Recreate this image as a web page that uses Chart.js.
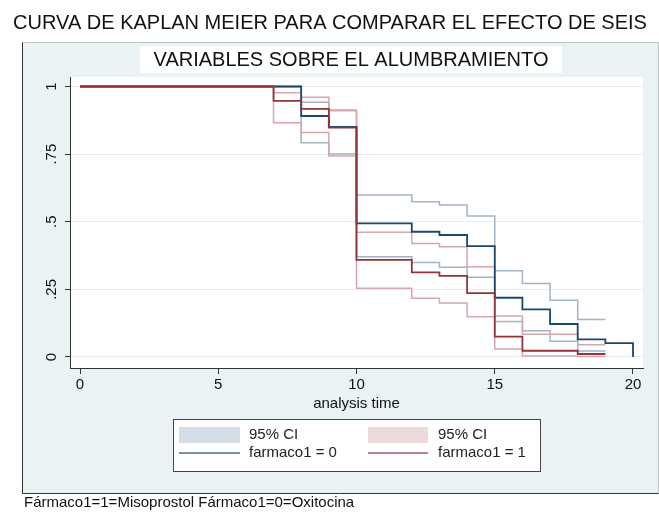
<!DOCTYPE html>
<html>
<head>
<meta charset="utf-8">
<script src="https://cdn.jsdelivr.net/npm/chart.js@4.4.0/dist/chart.umd.min.js"></script>
<style>
  html, body { margin: 0; padding: 0; background: #ffffff; }
  #c { display: block; }
</style>
</head>
<body>
<canvas id="c" width="659" height="513"></canvas>
<script>
// ---- data ----
const title1 = 'CURVA DE KAPLAN MEIER PARA COMPARAR EL EFECTO DE SEIS';
const title2 = 'VARIABLES SOBRE EL ALUMBRAMIENTO';
const footer = 'Fármaco1=1=Misoprostol Fármaco1=0=Oxitocina';
const xTitle = 'analysis time';
const xTicks = [0, 5, 10, 15, 20];
const yTicks = [0, 0.25, 0.5, 0.75, 1];
const yTickLabels = ['0', '.25', '.5', '.75', '1'];

// farmaco1 = 0
const tBlue   = [0, 8, 9, 10, 12, 13, 14, 15, 16, 17, 18, 19, 20];
const sBlue   = [1, 0.891, 0.851, 0.494, 0.463, 0.451, 0.410, 0.219, 0.176, 0.122, 0.065, 0.051, 0];
const tBlueCI = [0, 8, 9, 10, 12, 13, 14, 15, 16, 17, 18, 19];
const loBlue  = [1, 0.792, 0.750, 0.371, 0.349, 0.332, 0.295, 0.131, 0.097, 0.058, 0.022, 0.022];
const hiBlue  = [1, 0.942, 0.913, 0.599, 0.574, 0.562, 0.521, 0.319, 0.272, 0.210, 0.139, 0.139];

// farmaco1 = 1
const tRed    = [0, 7, 8, 9, 10, 12, 13, 14, 15, 16, 18, 19];
const sRed    = [1, 0.947, 0.917, 0.848, 0.359, 0.313, 0.300, 0.236, 0.075, 0.023, 0.011, 0.011];
const tRedCI  = [0, 7, 8, 9, 10, 12, 13, 14, 15, 16, 18, 19];
const loRed   = [1, 0.866, 0.830, 0.743, 0.254, 0.217, 0.200, 0.149, 0.030, 0.004, 0.002, 0.002];
const hiRed   = [1, 0.977, 0.960, 0.910, 0.461, 0.420, 0.408, 0.334, 0.152, 0.084, 0.045, 0.045];

const legendLabels = ['95% CI', '95% CI', 'farmaco1 = 0', 'farmaco1 = 1'];

// ---- styling ----
const FONT = 'Arial, "Liberation Sans", sans-serif';
const BLUE = '#1a476f', RED = '#90353b';
const BLUE_CI = '#a2b3c4', RED_CI = '#d4a8ad';
const BLUE_SW = '#d5dde6', RED_SW = '#ecdadd';
const FRAME_BG = '#eaf2f3';

const pts = (t, v) => t.map((x, i) => ({ x: x, y: v[i] }));

const ds = (label, t, v, color, width) => ({
  label, data: pts(t, v), borderColor: color, borderWidth: width,
  stepped: 'before', pointRadius: 0, fill: false, tension: 0
});

const decor = {
  id: 'decor',
  beforeDraw(chart) {
    const { ctx, chartArea: a } = chart;
    ctx.save();
    ctx.fillStyle = '#ffffff';
    ctx.fillRect(0, 0, chart.width, chart.height);
    ctx.fillStyle = FRAME_BG;
    ctx.fillRect(22, 42, 637, 451);
    // subtitle box
    ctx.fillStyle = '#ffffff';
    ctx.fillRect(140, 46, 422, 27);
    // plot region
    ctx.fillRect(a.left, a.top, a.right - a.left, a.bottom - a.top);
    // frame border
    ctx.strokeStyle = '#bfc6c8';
    ctx.lineWidth = 1;
    ctx.beginPath();
    ctx.moveTo(22.5, 42.5); ctx.lineTo(658.5, 42.5); ctx.lineTo(658.5, 493.5);
    ctx.stroke();
    ctx.strokeStyle = '#333333';
    ctx.beginPath();
    ctx.moveTo(22.5, 42.5); ctx.lineTo(22.5, 493.5); ctx.lineTo(658.5, 493.5);
    ctx.stroke();
    ctx.restore();
  },
  afterDraw(chart) {
    const { ctx } = chart;
    const ys = chart.scales.y;
    ctx.save();
    ctx.fillStyle = '#111111';
    // titles
    ctx.font = '20px ' + FONT;
    ctx.textAlign = 'center';
    ctx.textBaseline = 'middle';
    ctx.fillText(title1, 330, 23);
    ctx.fillText(title2, 351, 60);
    // rotated y tick labels
    ctx.font = '15px ' + FONT;
    yTicks.forEach((v, i) => {
      const py = ys.getPixelForValue(v);
      ctx.save();
      ctx.translate(52, py);
      ctx.rotate(-Math.PI / 2);
      ctx.textAlign = 'center';
      ctx.textBaseline = 'middle';
      ctx.fillText(yTickLabels[i], 0, 0);
      ctx.restore();
    });
    // legend
    const L = 173, T = 419, R = 540, B = 471;
    ctx.fillStyle = '#ffffff';
    ctx.fillRect(L, T, R - L, B - T);
    ctx.strokeStyle = '#444444';
    ctx.lineWidth = 1;
    ctx.strokeRect(L + 0.5, T + 0.5, R - L, B - T);
    const row1 = 435, row2 = 453;
    const col = [{ s: 179, e: 240, tx: 249 }, { s: 368, e: 428, tx: 438 }];
    ctx.fillStyle = BLUE_SW; ctx.fillRect(col[0].s, row1 - 8, col[0].e - col[0].s, 16);
    ctx.fillStyle = RED_SW;  ctx.fillRect(col[1].s, row1 - 8, col[1].e - col[1].s, 16);
    ctx.lineWidth = 1.5;
    ctx.strokeStyle = '#4d6a84';
    ctx.beginPath(); ctx.moveTo(col[0].s, row2); ctx.lineTo(col[0].e, row2); ctx.stroke();
    ctx.strokeStyle = '#a65a60';
    ctx.beginPath(); ctx.moveTo(col[1].s, row2); ctx.lineTo(col[1].e, row2); ctx.stroke();
    ctx.fillStyle = '#222222';
    ctx.font = '15px ' + FONT;
    ctx.textAlign = 'left';
    ctx.textBaseline = 'middle';
    ctx.fillText(legendLabels[0], col[0].tx, row1);
    ctx.fillText(legendLabels[1], col[1].tx, row1);
    ctx.fillText(legendLabels[2], col[0].tx, row2);
    ctx.fillText(legendLabels[3], col[1].tx, row2);
    // footer
    ctx.fillStyle = '#111111';
    ctx.font = '15px ' + FONT;
    ctx.fillText(footer, 24, 503);
    ctx.restore();
  }
};

new Chart(document.getElementById('c'), {
  type: 'line',
  data: {
    datasets: [
      ds('farmaco1 = 1', tRed, sRed, RED, 1.8),
      ds('farmaco1 = 0', tBlue, sBlue, BLUE, 1.8),
      ds('95% CI hi 1', tRedCI, hiRed, RED_CI, 1.5),
      ds('95% CI lo 1', tRedCI, loRed, RED_CI, 1.5),
      ds('95% CI hi 0', tBlueCI, hiBlue, BLUE_CI, 1.5),
      ds('95% CI lo 0', tBlueCI, loBlue, BLUE_CI, 1.5)
    ]
  },
  options: {
    responsive: false,
    devicePixelRatio: 1,
    animation: false,
    layout: { padding: { left: 65, right: 16, top: 77, bottom: 100 } },
    plugins: { legend: { display: false }, title: { display: false }, tooltip: { enabled: false } },
    scales: {
      x: {
        type: 'linear',
        min: -0.3617, max: 20.3617,
        afterBuildTicks: (s) => { s.ticks = xTicks.map(v => ({ value: v })); },
        grid: { display: true, drawOnChartArea: false, drawTicks: true, tickLength: 6, tickColor: '#333333', color: '#333333' },
        border: { display: true, color: '#333333', width: 1 },
        ticks: { color: '#111111', font: { family: FONT, size: 15, lineHeight: 1 }, padding: 3, maxRotation: 0, autoSkip: false },
        title: { display: true, text: xTitle, color: '#111111', font: { family: FONT, size: 15, lineHeight: 1.2 }, padding: { top: 0, bottom: 0 } }
      },
      y: {
        type: 'linear',
        min: -0.0407, max: 1.0351,
        afterBuildTicks: (s) => { s.ticks = yTicks.map(v => ({ value: v })); },
        grid: { display: true, drawOnChartArea: true, drawTicks: true, tickLength: 5, tickColor: '#333333', color: '#e4ecee', lineWidth: 1 },
        border: { display: true, color: '#333333', width: 1 },
        ticks: { display: false }
      }
    }
  },
  plugins: [decor]
});
</script>
</body>
</html>
